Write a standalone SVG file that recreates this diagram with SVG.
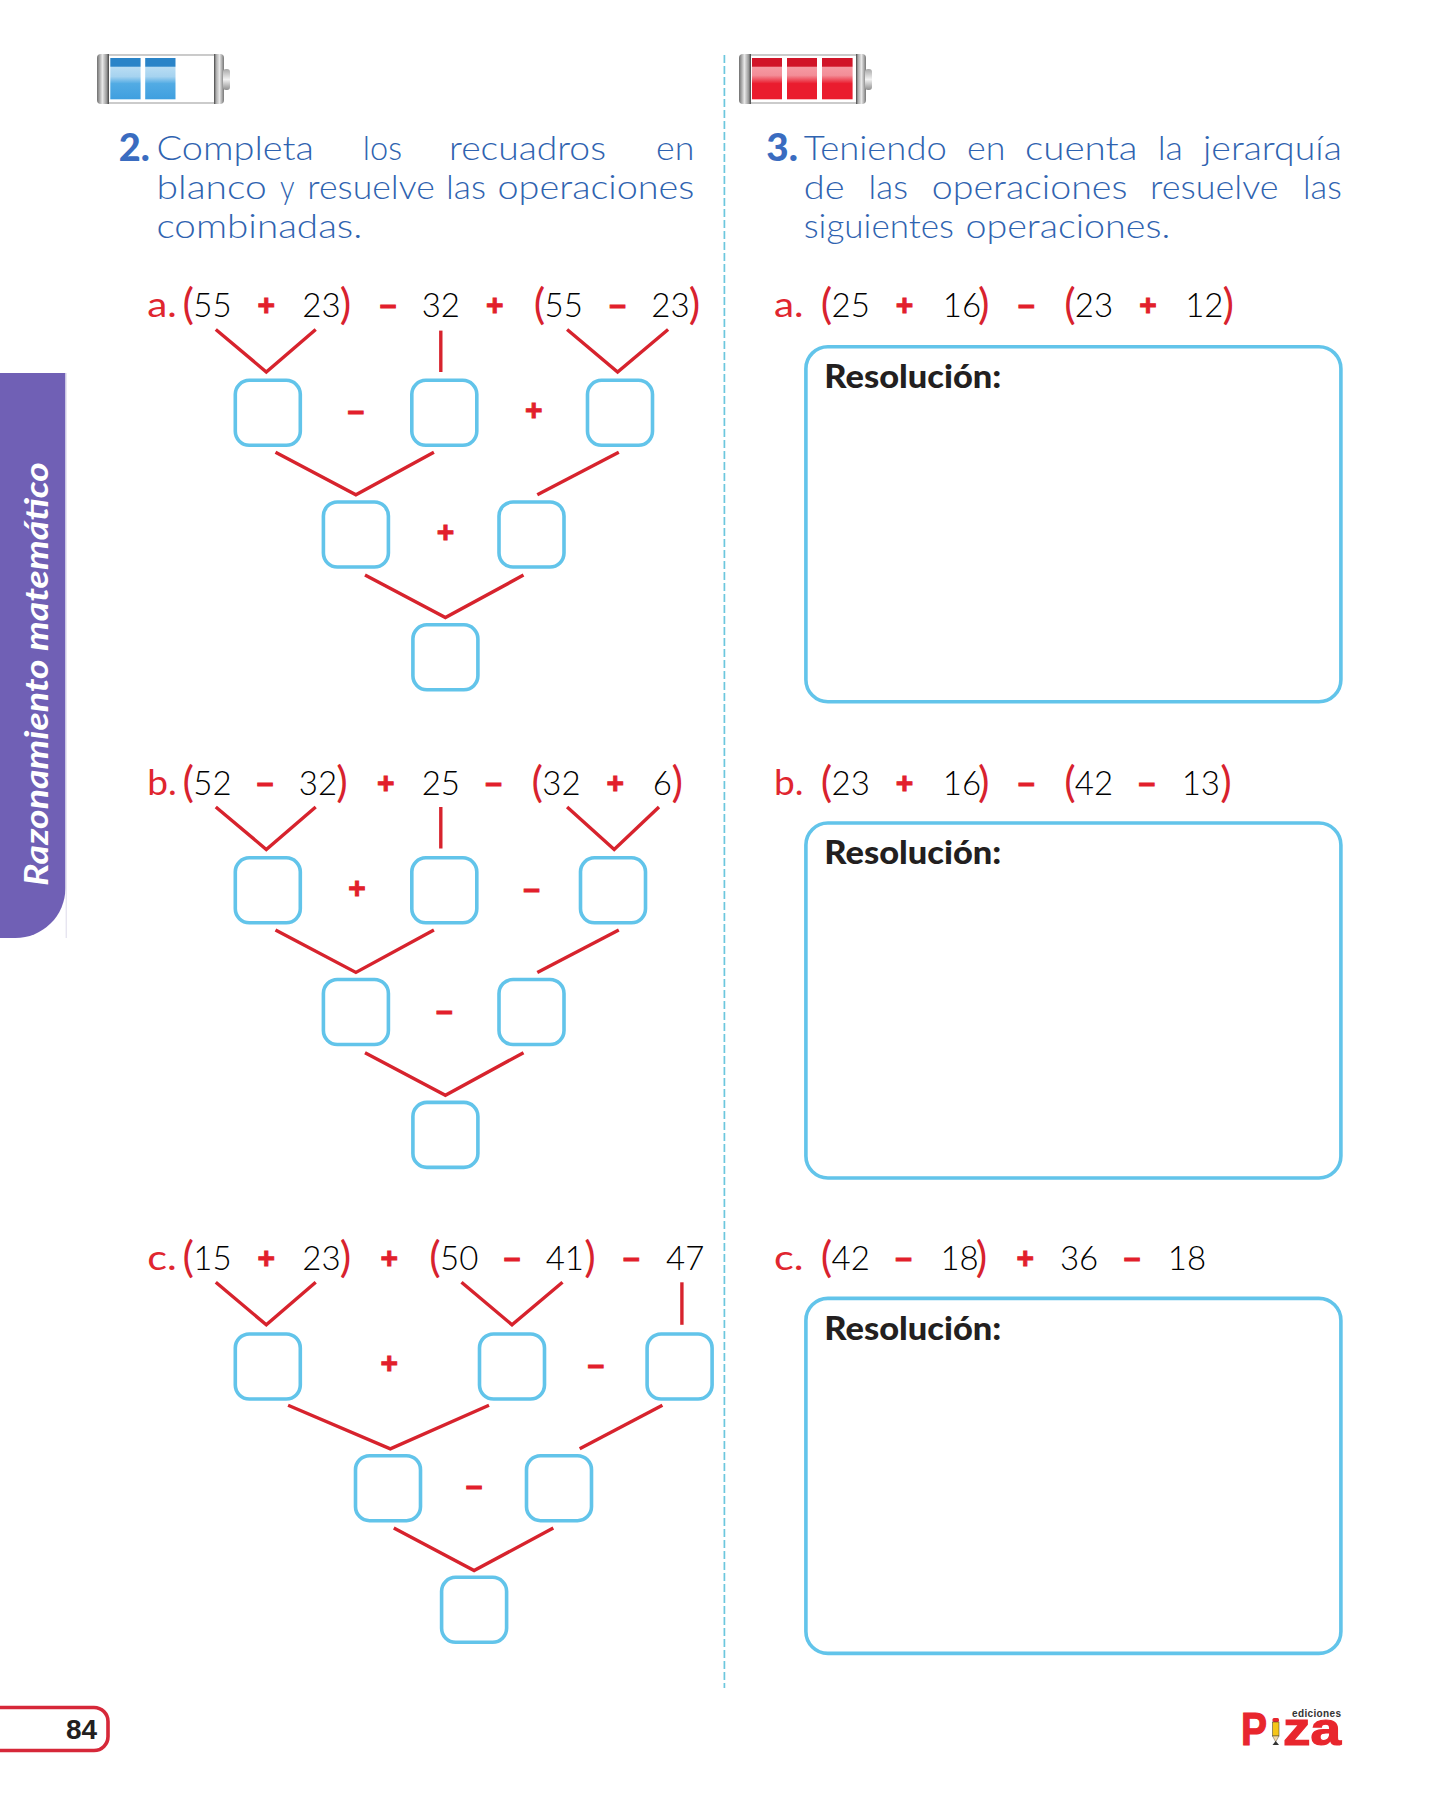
<svg xmlns="http://www.w3.org/2000/svg" xmlns:xlink="http://www.w3.org/1999/xlink" width="1439" height="1800" viewBox="0 0 1439 1800">
<style>
text{font-family:"Lato","Noto Sans","Liberation Sans",sans-serif}
.w{font-size:34px;fill:#2f63b0;font-weight:300}
.n{font-size:38px;fill:#3a6cc0;font-weight:900}
.lab{font-size:35px;fill:#e0262f}
.d{font-size:33px;fill:#000;font-weight:300;text-anchor:middle}
.p{font-size:43px;fill:#d8222e;font-weight:400;text-anchor:middle}
.o{font-family:"Liberation Sans",Arial,sans-serif;font-size:30px;font-weight:700;fill:#e21f2c;stroke:#e21f2c;stroke-width:.9;text-anchor:middle}
.res{font-size:32px;font-weight:900;fill:#231f20}
.b{fill:#fff;stroke:#62c4ea;stroke-width:3.6}
.c{fill:none;stroke:#d7232d;stroke-width:3.4}
.logo{font-family:"Liberation Sans",Arial,sans-serif;font-weight:700;fill:#e8262d;stroke:#e8262d;stroke-width:1.2}
</style>
<defs>
<linearGradient id="gb" x1="0" y1="0" x2="0" y2="1"><stop offset="0" stop-color="#2a84c8"/><stop offset=".2" stop-color="#2a84c8"/><stop offset=".22" stop-color="#b9ddf3"/><stop offset=".45" stop-color="#a6d3f0"/><stop offset=".62" stop-color="#52abe4"/><stop offset="1" stop-color="#3f9fdf"/></linearGradient>
<linearGradient id="gr" x1="0" y1="0" x2="0" y2="1"><stop offset="0" stop-color="#d11428"/><stop offset=".2" stop-color="#d11428"/><stop offset=".22" stop-color="#f59aa3"/><stop offset=".42" stop-color="#f38d97"/><stop offset=".62" stop-color="#ea1c2e"/><stop offset="1" stop-color="#ea1c2e"/></linearGradient>
<linearGradient id="gc" x1="0" y1="0" x2="1" y2="0"><stop offset="0" stop-color="#6f6f6f"/><stop offset=".45" stop-color="#e8e8e8"/><stop offset=".8" stop-color="#9a9a9a"/><stop offset="1" stop-color="#444"/></linearGradient>
<linearGradient id="gd" x1="0" y1="0" x2="1" y2="0"><stop offset="0" stop-color="#444"/><stop offset=".2" stop-color="#aaa"/><stop offset=".55" stop-color="#e8e8e8"/><stop offset="1" stop-color="#777"/></linearGradient>
<linearGradient id="gn" x1="0" y1="0" x2="0" y2="1"><stop offset="0" stop-color="#a8a8a8"/><stop offset=".5" stop-color="#f2f2f2"/><stop offset="1" stop-color="#8f8f8f"/></linearGradient>
<g id="shell">
<rect x="5" y="1" width="118" height="48" fill="#fff" stroke="#b5b5b5" stroke-width="1.4"/>
<path d="M4 0H12V50H4A4 4 0 0 1 0 46V4A4 4 0 0 1 4 0Z" fill="url(#gc)"/>
<path d="M117 0H123A4 4 0 0 1 127 4V46A4 4 0 0 1 123 50H117Z" fill="url(#gd)"/>
<rect x="126" y="15" width="7" height="21" rx="3" fill="url(#gn)"/>
</g>
</defs>
<rect width="1439" height="1800" fill="#fff"/>

<g id="side-tab">
<path d="M0 373H65.4V888A50 50 0 0 1 15.4 938H0Z" fill="#7060b5"/>
<path d="M66.2 373V938" stroke="#dcdaea" stroke-width="1" fill="none"/>
<text transform="translate(47.5 886) rotate(-90)" font-size="33" font-style="italic" font-weight="700" fill="#fff" textLength="424" lengthAdjust="spacingAndGlyphs">Razonamiento matemático</text>
</g>

<g id="divider"><path d="M724.4 55V1688" stroke="#6cc7dd" stroke-width="1.7" stroke-dasharray="8 3" fill="none"/></g>

<g id="battery-2">
<use xlink:href="#shell" href="#shell" x="97" y="54"/>
<rect x="110.3" y="58" width="30.3" height="41.3" fill="url(#gb)"/>
<rect x="145.2" y="58" width="30.3" height="41.3" fill="url(#gb)"/>
</g>
<g id="battery-3">
<use xlink:href="#shell" href="#shell" x="739" y="54"/>
<rect x="752" y="58" width="30" height="41.3" fill="url(#gr)"/>
<rect x="787" y="58" width="30" height="41.3" fill="url(#gr)"/>
<rect x="822" y="58" width="30.6" height="41.3" fill="url(#gr)"/>
</g>

<g id="instruction-2">
<text class="n" x="118.7" y="161" textLength="31" lengthAdjust="spacingAndGlyphs">2.</text>
<text class="w" x="156.5" y="160" textLength="157.4" lengthAdjust="spacingAndGlyphs">Completa</text>
<text class="w" x="362.8" y="160" textLength="39.2" lengthAdjust="spacingAndGlyphs">los</text>
<text class="w" x="449" y="160" textLength="157" lengthAdjust="spacingAndGlyphs">recuadros</text>
<text class="w" x="656" y="160" textLength="38.3" lengthAdjust="spacingAndGlyphs">en</text>
<text class="w" x="156.5" y="198.5" textLength="110.3" lengthAdjust="spacingAndGlyphs">blanco</text>
<text class="w" x="280" y="198.5" textLength="14.6" lengthAdjust="spacingAndGlyphs">y</text>
<text class="w" x="307.3" y="198.5" textLength="127.5" lengthAdjust="spacingAndGlyphs">resuelve</text>
<text class="w" x="446" y="198.5" textLength="40" lengthAdjust="spacingAndGlyphs">las</text>
<text class="w" x="497.5" y="198.5" textLength="196.9" lengthAdjust="spacingAndGlyphs">operaciones</text>
<text class="w" x="156.5" y="237.5" textLength="205.8" lengthAdjust="spacingAndGlyphs">combinadas.</text>
</g>

<g id="instruction-3">
<text class="n" x="766.3" y="161" textLength="31.6" lengthAdjust="spacingAndGlyphs">3.</text>
<text class="w" x="803.7" y="160" textLength="143.1" lengthAdjust="spacingAndGlyphs">Teniendo</text>
<text class="w" x="967" y="160" textLength="38.4" lengthAdjust="spacingAndGlyphs">en</text>
<text class="w" x="1025" y="160" textLength="112.5" lengthAdjust="spacingAndGlyphs">cuenta</text>
<text class="w" x="1157.7" y="160" textLength="25.3" lengthAdjust="spacingAndGlyphs">la</text>
<text class="w" x="1203" y="160" textLength="138.8" lengthAdjust="spacingAndGlyphs">jerarquía</text>
<text class="w" x="803.7" y="198.5" textLength="40.8" lengthAdjust="spacingAndGlyphs">de</text>
<text class="w" x="868.6" y="198.5" textLength="39.4" lengthAdjust="spacingAndGlyphs">las</text>
<text class="w" x="931.7" y="198.5" textLength="195.7" lengthAdjust="spacingAndGlyphs">operaciones</text>
<text class="w" x="1150" y="198.5" textLength="128.5" lengthAdjust="spacingAndGlyphs">resuelve</text>
<text class="w" x="1303" y="198.5" textLength="38.8" lengthAdjust="spacingAndGlyphs">las</text>
<text class="w" x="803.7" y="237.5" textLength="150.2" lengthAdjust="spacingAndGlyphs">siguientes</text>
<text class="w" x="965.4" y="237.5" textLength="204.9" lengthAdjust="spacingAndGlyphs">operaciones.</text>
</g>

<g id="eq-2a">
<text class="lab" x="147.3" y="317" textLength="29.5" lengthAdjust="spacingAndGlyphs">a.</text>
<text class="p" x="188.3" y="319">(</text><text class="d" x="212.4" y="317">55</text><text class="o" x="266.3" y="315">+</text><text class="d" x="321.4" y="317">23</text><text class="p" x="345.4" y="319">)</text>
<text class="o" x="388" y="315">–</text><text class="d" x="440.8" y="317">32</text><text class="o" x="494.8" y="315">+</text>
<text class="p" x="539.6" y="319">(</text><text class="d" x="563.7" y="317">55</text><text class="o" x="617.6" y="315">–</text><text class="d" x="670.4" y="317">23</text><text class="p" x="694.4" y="319">)</text>
</g>
<g id="eq-2b">
<text class="lab" x="147.3" y="794.6" textLength="29.5" lengthAdjust="spacingAndGlyphs">b.</text>
<text class="p" x="188.3" y="796.6">(</text><text class="d" x="212.4" y="794.6">52</text><text class="o" x="265.2" y="792.6">–</text><text class="d" x="318" y="794.6">32</text><text class="p" x="342" y="796.6">)</text>
<text class="o" x="385.7" y="792.6">+</text><text class="d" x="440.8" y="794.6">25</text><text class="o" x="493.6" y="792.6">–</text>
<text class="p" x="537.3" y="796.6">(</text><text class="d" x="561.4" y="794.6">32</text><text class="o" x="615.3" y="792.6">+</text><text class="d" x="662.4" y="794.6">6</text><text class="p" x="677.2" y="796.6">)</text>
</g>
<g id="eq-2c">
<text class="lab" x="147.3" y="1270" textLength="29.5" lengthAdjust="spacingAndGlyphs">c.</text>
<text class="p" x="188.3" y="1272">(</text><text class="d" x="212.4" y="1270">15</text><text class="o" x="266.3" y="1268">+</text><text class="d" x="321.4" y="1270">23</text><text class="p" x="345.4" y="1272">)</text>
<text class="o" x="389.2" y="1268">+</text>
<text class="p" x="435" y="1272">(</text><text class="d" x="459.2" y="1270">50</text><text class="o" x="512" y="1268">–</text><text class="d" x="564.8" y="1270">41</text><text class="p" x="590" y="1272">)</text>
<text class="o" x="631.4" y="1268">–</text><text class="d" x="685.2" y="1270">47</text>
</g>

<g id="eq-3a">
<text class="lab" x="774" y="317" textLength="29.5" lengthAdjust="spacingAndGlyphs">a.</text>
<text class="p" x="826.6" y="319">(</text><text class="d" x="850.7" y="317">25</text><text class="o" x="904.6" y="315">+</text><text class="d" x="961.9" y="317">16</text><text class="p" x="983.7" y="319">)</text>
<text class="o" x="1026.3" y="315">–</text>
<text class="p" x="1070" y="319">(</text><text class="d" x="1094" y="317">23</text><text class="o" x="1148" y="315">+</text><text class="d" x="1204.3" y="317">12</text><text class="p" x="1228.2" y="319">)</text>
</g>
<g id="eq-3b">
<text class="lab" x="774" y="794.6" textLength="29.5" lengthAdjust="spacingAndGlyphs">b.</text>
<text class="p" x="826.6" y="796.6">(</text><text class="d" x="850.7" y="794.6">23</text><text class="o" x="904.6" y="792.6">+</text><text class="d" x="961.9" y="794.6">16</text><text class="p" x="983.7" y="796.6">)</text>
<text class="o" x="1026.3" y="792.6">–</text>
<text class="p" x="1070" y="796.6">(</text><text class="d" x="1094" y="794.6">42</text><text class="o" x="1146.9" y="792.6">–</text><text class="d" x="1200.8" y="794.6">13</text><text class="p" x="1225.9" y="796.6">)</text>
</g>
<g id="eq-3c">
<text class="lab" x="774" y="1270" textLength="29.5" lengthAdjust="spacingAndGlyphs">c.</text>
<text class="p" x="826.6" y="1272">(</text><text class="d" x="850.7" y="1270">42</text><text class="o" x="903.5" y="1268">–</text><text class="d" x="959.6" y="1270">18</text><text class="p" x="981.4" y="1272">)</text>
<text class="o" x="1025.2" y="1268">+</text><text class="d" x="1079.1" y="1270">36</text><text class="o" x="1132" y="1268">–</text><text class="d" x="1186.9" y="1270">18</text>
</g>

<g id="connectors">
<polyline class="c" points="215.8,329.5 266.3,372 315.7,329.5"/>
<polyline class="c" points="440.8,330.6 440.8,372"/>
<polyline class="c" points="567.1,329.5 617.6,372 668.1,329.5"/>
<polyline class="c" points="275.5,452.3 355.9,494.8 433.9,452.3"/>
<polyline class="c" points="618.8,452.3 537.3,494.8"/>
<polyline class="c" points="365,575.1 445.4,617.6 523.5,575.1"/>
<polyline class="c" points="215.8,807 266.3,849.5 315.7,807"/>
<polyline class="c" points="440.8,807 440.8,848.5"/>
<polyline class="c" points="567.1,807 614.2,849.5 659,807"/>
<polyline class="c" points="275.5,929.9 355.9,972.4 433.9,929.9"/>
<polyline class="c" points="618.8,929.9 537.3,972.4"/>
<polyline class="c" points="365,1052.7 445.4,1095.2 523.5,1052.7"/>
<polyline class="c" points="215.8,1282.3 266.3,1324.8 315.7,1282.3"/>
<polyline class="c" points="461.5,1282.3 512,1324.8 562.5,1282.3"/>
<polyline class="c" points="681.9,1282.3 681.9,1324.8"/>
<polyline class="c" points="288.1,1405.2 390.3,1448.8 489,1405.2"/>
<polyline class="c" points="662.4,1405.2 579.7,1448.8"/>
<polyline class="c" points="393.8,1528 474.1,1570.5 553.3,1528"/>
</g>

<g id="a1"><rect class="b" x="235.3" y="380.3" width="65" height="65" rx="14"/></g>
<g id="a2"><rect class="b" x="411.8" y="380.3" width="65" height="65" rx="14"/></g>
<g id="a3"><rect class="b" x="587.5" y="380.3" width="65" height="65" rx="14"/></g>
<g id="a4"><rect class="b" x="323.4" y="502" width="65" height="65" rx="14"/></g>
<g id="a5"><rect class="b" x="499" y="502" width="65" height="65" rx="14"/></g>
<g id="a6"><rect class="b" x="412.9" y="624.8" width="65" height="65" rx="14"/></g>
<g id="b1"><rect class="b" x="235.3" y="857.8" width="65" height="65" rx="14"/></g>
<g id="b2"><rect class="b" x="411.8" y="857.8" width="65" height="65" rx="14"/></g>
<g id="b3"><rect class="b" x="580.5" y="857.8" width="65" height="65" rx="14"/></g>
<g id="b4"><rect class="b" x="323.4" y="979.5" width="65" height="65" rx="14"/></g>
<g id="b5"><rect class="b" x="499" y="979.5" width="65" height="65" rx="14"/></g>
<g id="b6"><rect class="b" x="412.9" y="1102.4" width="65" height="65" rx="14"/></g>
<g id="c1"><rect class="b" x="235.3" y="1334" width="65" height="65" rx="14"/></g>
<g id="c2"><rect class="b" x="479.5" y="1334" width="65" height="65" rx="14"/></g>
<g id="c3"><rect class="b" x="647.1" y="1334" width="65" height="65" rx="14"/></g>
<g id="c4"><rect class="b" x="355.5" y="1455.7" width="65" height="65" rx="14"/></g>
<g id="c5"><rect class="b" x="526.5" y="1455.7" width="65" height="65" rx="14"/></g>
<g id="c6"><rect class="b" x="441.6" y="1577.3" width="65" height="65" rx="14"/></g>

<g id="ops-2a"><text class="o" x="355.9" y="421">–</text><text class="o" x="533.8" y="420">+</text><text class="o" x="445.4" y="542">+</text></g>
<g id="ops-2b"><text class="o" x="357" y="898">+</text><text class="o" x="531.5" y="898.5">–</text><text class="o" x="444.3" y="1020.5">–</text></g>
<g id="ops-2c"><text class="o" x="389.2" y="1373">+</text><text class="o" x="595.8" y="1375">–</text><text class="o" x="474.1" y="1495.5">–</text></g>

<g id="res-a"><rect class="b" x="805.9" y="346.7" width="535" height="355" rx="22"/><text class="res" x="824.3" y="388" textLength="177" lengthAdjust="spacingAndGlyphs">Resolución:</text></g>
<g id="res-b"><rect class="b" x="805.9" y="823" width="535" height="355" rx="22"/><text class="res" x="824.3" y="864.4" textLength="177" lengthAdjust="spacingAndGlyphs">Resolución:</text></g>
<g id="res-c"><rect class="b" x="805.9" y="1298.4" width="535" height="355" rx="22"/><text class="res" x="824.3" y="1339.7" textLength="177" lengthAdjust="spacingAndGlyphs">Resolución:</text></g>

<g id="page-number">
<path d="M-4 1707.5H94A14 14 0 0 1 108 1721.5V1736.5A14 14 0 0 1 94 1750.5H-4" fill="#fff" stroke="#d62839" stroke-width="3.6"/>
<text x="66" y="1739" font-size="28" font-weight="700" fill="#231f20" style="font-family:'Liberation Sans',Arial,sans-serif">84</text>
</g>

<g id="logo">
<text class="logo" x="1241" y="1745" font-size="47" textLength="26" lengthAdjust="spacingAndGlyphs">P</text>
<text class="logo" x="1283" y="1745" font-size="46" textLength="58" lengthAdjust="spacingAndGlyphs">za</text>
<text x="1292" y="1716.7" font-size="10" font-weight="700" fill="#333" textLength="49" style="font-family:'Liberation Sans',Arial,sans-serif">ediciones</text>
<rect x="1272.5" y="1718" width="6.5" height="4" rx="1.5" fill="#e8262d"/>
<rect x="1272.5" y="1722" width="6.5" height="14" fill="#f5c518" stroke="#333" stroke-width=".5"/>
<path d="M1272.5 1736H1279L1275.7 1742Z" fill="#f2d9a8" stroke="#333" stroke-width=".4"/>
<path d="M1272.5 1745H1279L1275.7 1741Z" fill="#333"/>
</g>
</svg>
